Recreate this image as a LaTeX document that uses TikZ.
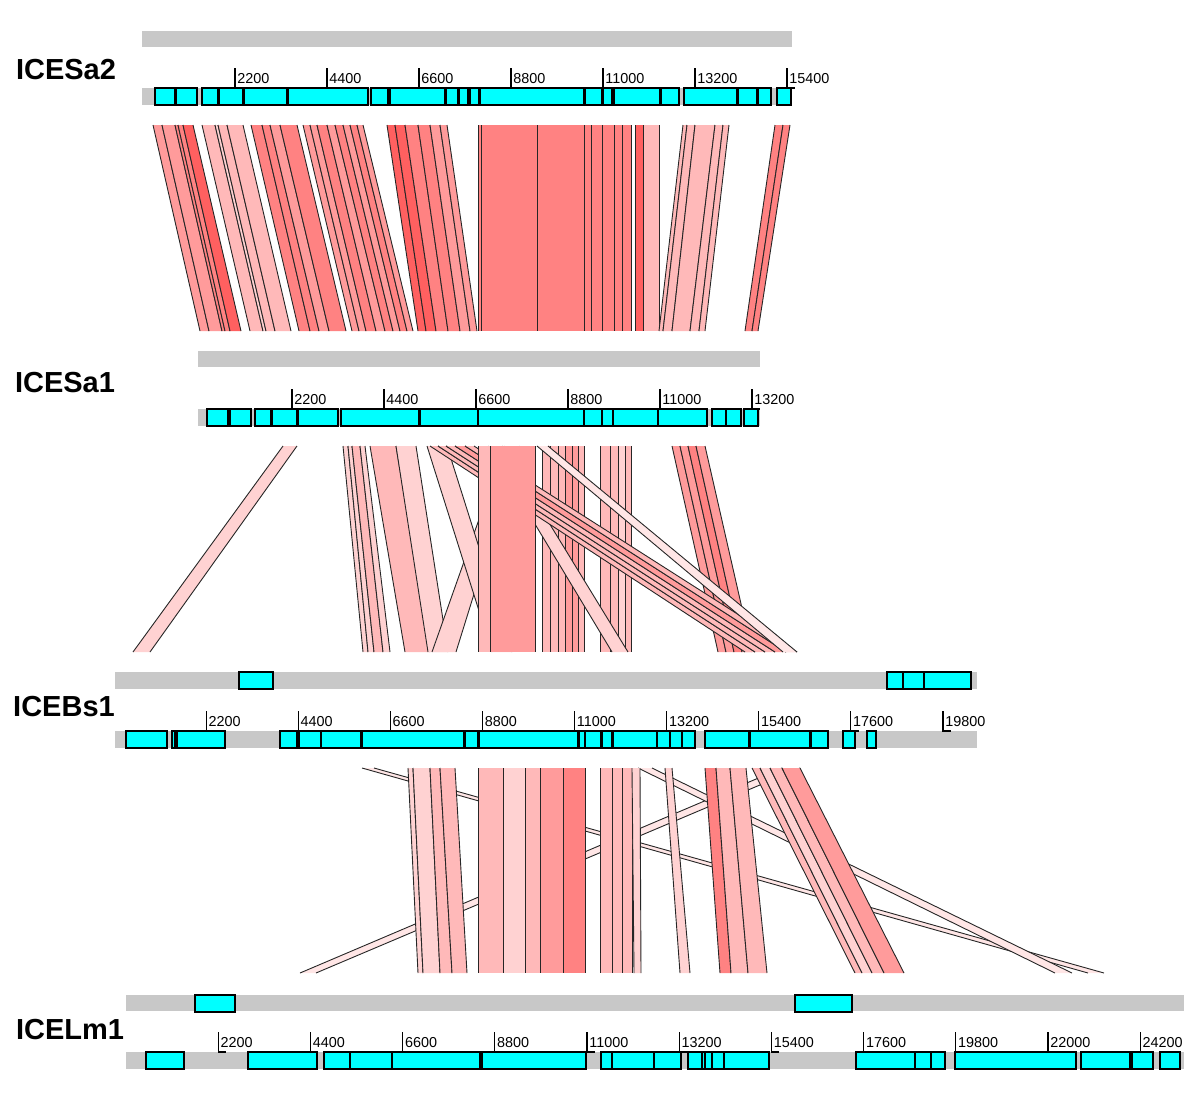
\documentclass[tikz,border=0pt]{standalone}
\usepackage{fontspec}
\setmainfont{Liberation Sans}

\definecolor{trackgray}{RGB}{200,200,200}
\definecolor{cdscyan}{RGB}{0,255,255}
\definecolor{pkA}{RGB}{255,96,96}
\definecolor{pkB}{RGB}{255,130,130}
\definecolor{pkC}{RGB}{255,155,155}
\definecolor{pkD}{RGB}{255,185,185}
\definecolor{pkE}{RGB}{255,210,210}
\definecolor{pkF}{RGB}{255,230,230}

\tikzset{
  track/.style={fill=trackgray},
  cds/.style={fill=cdscyan, draw=black, line width=0.6pt},
  bandedge/.style={draw=black!85, line width=0.45pt},
  ticklabel/.style={anchor=west, inner sep=1pt, font=\fontsize{7.2}{8}\selectfont},
  isename/.style={font=\fontsize{14.5}{17}\selectfont\bfseries}
}

% one match between two tracks: top x1,x2 / bottom x3,x4
\newcommand{\band}[5]{%
  \fill[#5] (#1,\bandtop) -- (#2,\bandtop) -- (#4,\bandbot) -- (#3,\bandbot) -- cycle;
  \draw[bandedge] (#1,\bandtop) -- (#3,\bandbot) (#2,\bandtop) -- (#4,\bandbot);}
\newcommand{\genebox}[3]{\draw[cds] (#1,#3) rectangle (#2,#3+17);}
\newcommand{\scaletick}[3]{%
  \draw[line width=0.6pt] (#1,#2-20) -- (#1,#2) -- (#1+8,#2);
  \node[ticklabel] at (#1,#2-9) {#3};}

\begin{document}
\begin{tikzpicture}[x=0.5pt,y=-0.5pt]
\useasboundingbox (0,0) rectangle (1200,1108);

\node[isename] (Sa2) at (66,70) {ICESa2};
\node[isename] (Sa1) at (65,383) {ICESa1};
\node[isename] (Bs1) at (64,707) {ICEBs1};
\node[isename] (Lm1) at (70,1030) {ICELm1};

% ICESa2
\fill[track] (142,31) rectangle (792,47);
\fill[track] (142,88) rectangle (792,105);
\foreach \a/\b in {155/175,176/197,202/218,219/243,244/287,288/368,371/388,390/445,446/458,459/468,470/479,480/584,585/602,603/612,614/660,661/679,684/737,738/757,758/771,777/791}
  {\genebox{\a}{\b}{88}}
\foreach \n [count=\i] in {2200,4400,6600,8800,11000,13200,15400}
  {\scaletick{143+92*\i}{88}{\n}}

% ICESa1
\fill[track] (198,351) rectangle (760,367);
\fill[track] (198,409) rectangle (760,426);
\foreach \a/\b in {207/228,230/251,255/271,272/297,298/338,341/419,420/478,478/584,584/602,602/613,613/658,658/707,712/726,726/741,744/758}
  {\genebox{\a}{\b}{409}}
\foreach \n [count=\i] in {2200,4400,6600,8800,11000,13200}
  {\scaletick{200+92*\i}{409}{\n}}

% ICEBs1
\fill[track] (115,672) rectangle (977,689);
\foreach \a/\b in {239/273,887/903,903/924,924/971}
  {\genebox{\a}{\b}{672}}
\fill[track] (115,731) rectangle (977,748);
\foreach \a/\b in {126/167,172/175,175/177,177/225,280/297,299/321,321/361,362/464,465/478,479/578,579/585,585/601,602/612,613/657,657/670,670/682,682/695,705/749,750/810,811/828,843/855,867/876}
  {\genebox{\a}{\b}{731}}
\foreach \n [count=\i] in {2200,4400,6600,8800,11000,13200,15400,17600,19800}
  {\scaletick{114+92.1*\i}{731}{\n}}

% ICELm1
\fill[track] (126,995) rectangle (1184,1011);
\foreach \a/\b in {195/235,795/852}
  {\genebox{\a}{\b}{995}}
\fill[track] (126,1052) rectangle (1184,1069);
\foreach \a/\b in {146/184,248/317,324/350,350/392,392/480,480/482,482/586,601/612,612/654,654/681,688/702,702/705,705/712,712/724,724/769,856/915,915/931,931/945,955/1076,1081/1130,1132/1153,1160/1180}
  {\genebox{\a}{\b}{1052}}
\foreach \n [count=\i] in {2200,4400,6600,8800,11000,13200,15400,17600,19800,22000,24200}
  {\scaletick{126+92.2*\i}{1052}{\n}}

% ICESa2 vs ICESa1
\def\bandtop{125}\def\bandbot{331}
\band{153}{162}{200}{209}{pkC}
\band{162}{175}{209}{222}{pkC}
\band{175}{178}{222}{225}{pkB}
\band{178}{183}{225}{230}{pkB}
\band{183}{193}{230}{241}{pkA}
\band{202}{215}{250}{263}{pkD}
\band{215}{218}{263}{266}{pkE}
\band{218}{227}{266}{275}{pkD}
\band{227}{243}{275}{291}{pkD}
\band{251}{262}{299}{310}{pkB}
\band{262}{270}{310}{319}{pkB}
\band{270}{280}{319}{329}{pkC}
\band{280}{297}{329}{346}{pkB}
\band{303}{310}{352}{359}{pkC}
\band{310}{317}{359}{366}{pkC}
\band{317}{327}{366}{376}{pkB}
\band{327}{335}{376}{385}{pkC}
\band{335}{343}{385}{393}{pkB}
\band{343}{350}{393}{400}{pkC}
\band{350}{357}{400}{407}{pkB}
\band{357}{363}{407}{413}{pkC}
\band{387}{395}{418}{426}{pkA}
\band{395}{405}{426}{436}{pkA}
\band{405}{418}{436}{448}{pkB}
\band{418}{430}{448}{460}{pkB}
\band{430}{440}{460}{470}{pkC}
\band{440}{447}{470}{477}{pkC}
\band{478}{481}{478}{481}{pkB}
\band{481}{537}{481}{537}{pkB}
\band{537}{584}{537}{584}{pkB}
\band{584}{591}{584}{591}{pkB}
\band{591}{602}{591}{602}{pkB}
\band{602}{614}{602}{614}{pkB}
\band{614}{622}{614}{622}{pkB}
\band{622}{631}{622}{631}{pkB}
\band{635}{643}{635}{643}{pkA}
\band{643}{659}{643}{659}{pkD}
\band{683}{687}{659}{663}{pkD}
\band{687}{695}{663}{672}{pkD}
\band{695}{715}{672}{690}{pkD}
\band{715}{723}{690}{699}{pkD}
\band{723}{729}{699}{705}{pkD}
\band{775}{783}{745}{752}{pkB}
\band{783}{790}{752}{758}{pkB}

% ICESa1 vs ICEBs1
\def\bandtop{446}\def\bandbot{652}
\band{542}{550}{542}{550}{pkD}
\band{550}{558}{550}{558}{pkD}
\band{558}{565}{558}{565}{pkD}
\band{565}{572}{565}{572}{pkC}
\band{572}{578}{572}{578}{pkC}
\band{578}{584}{578}{584}{pkD}
\band{600}{610}{600}{610}{pkD}
\band{610}{618}{610}{618}{pkD}
\band{618}{625}{618}{625}{pkE}
\band{625}{631}{625}{631}{pkD}
\band{283}{297}{133}{150}{pkE}
\band{343}{348}{363}{368}{pkE}
\band{348}{352}{368}{374}{pkE}
\band{352}{360}{374}{383}{pkD}
\band{360}{365}{383}{390}{pkE}
\band{370}{396}{405}{430}{pkD}
\band{396}{416}{428}{448}{pkE}
\band{505}{520}{432}{456}{pkE}
\band{427}{447}{492}{512}{pkE}
\band{488}{502}{612}{628}{pkE}
\band{672}{680}{718}{726}{pkC}
\band{680}{688}{726}{734}{pkC}
\band{688}{696}{734}{742}{pkB}
\band{696}{705}{742}{752}{pkC}
\band{430}{438}{745}{755}{pkD}
\band{438}{446}{755}{765}{pkD}
\band{446}{455}{765}{775}{pkD}
\band{455}{465}{775}{786}{pkC}
\band{465}{474}{786}{797}{pkD}
\band{537}{548}{783}{797}{pkF}
\band{478}{490}{478}{490}{pkD}
\band{490}{535}{490}{535}{pkC}

% ICEBs1 vs ICELm1
\def\bandtop{768}\def\bandbot{973}
\band{362}{374}{1088}{1104}{pkF}
\band{782}{800}{300}{316}{pkF}
\band{638}{652}{1055}{1072}{pkF}
\band{408}{413}{418}{423}{pkE}
\band{413}{430}{423}{440}{pkE}
\band{430}{440}{440}{452}{pkD}
\band{440}{455}{452}{467}{pkD}
\band{478}{503}{478}{503}{pkD}
\band{503}{525}{503}{525}{pkE}
\band{525}{540}{525}{540}{pkD}
\band{540}{563}{540}{563}{pkC}
\band{563}{585}{563}{585}{pkB}
\band{600}{612}{600}{612}{pkD}
\band{612}{622}{612}{622}{pkD}
\band{622}{632}{622}{632}{pkD}
\band{632}{640}{634}{641}{pkE}
\band{665}{672}{680}{690}{pkE}
\band{705}{716}{720}{731}{pkB}
\band{716}{730}{731}{748}{pkD}
\band{730}{746}{748}{767}{pkD}
\band{752}{760}{855}{862}{pkD}
\band{760}{770}{862}{872}{pkE}
\band{770}{782}{872}{884}{pkD}
\band{782}{800}{884}{904}{pkC}
\end{tikzpicture}
\end{document}
